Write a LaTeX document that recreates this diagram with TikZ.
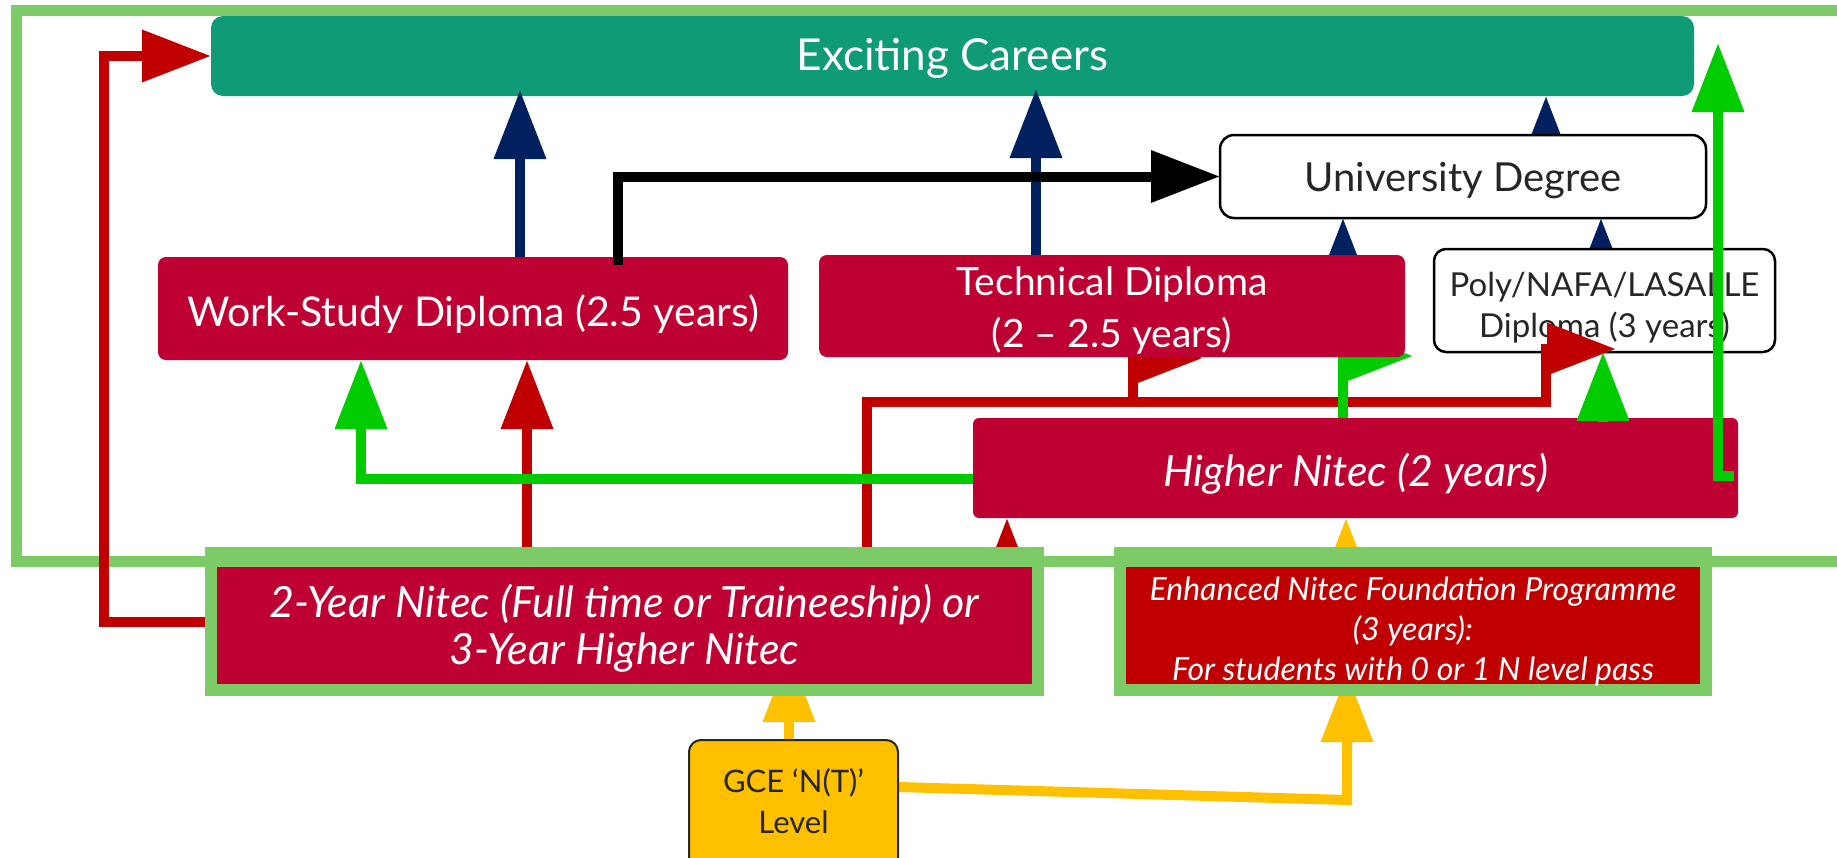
\documentclass[tikz,border=0pt]{standalone}
\usepackage{fontspec}
\setmainfont{Lato}
\usetikzlibrary{arrows.meta,calc}
\definecolor{cTeal}{HTML}{0E9B76}
\definecolor{cCrim}{HTML}{BE0032}
\definecolor{cRed}{HTML}{C00000}
\definecolor{cLGreen}{HTML}{7DCB67}
\definecolor{cGreen}{HTML}{00CC00}
\definecolor{cNavy}{HTML}{002060}
\definecolor{cGold}{HTML}{FFC000}
\definecolor{cDark}{HTML}{262626}
\tikzset{
  box/.style={inner sep=0pt, outer sep=0pt, align=center, text=white},
  lbl/.style={inner sep=0pt, align=center, text=white},
  conn/.style={line width=10pt, -{Triangle[length=69pt,width=50pt]}},
  navyc/.style={conn, draw=cNavy},
  redc/.style={conn, draw=cRed},
  greenc/.style={conn, draw=cGreen},
  goldc/.style={conn, draw=cGold},
  blackc/.style={conn, draw=black},
}
\begin{document}
\begin{tikzpicture}[x=1pt,y=-1pt]
\useasboundingbox (0,0) rectangle (1837,857);
% node frames (positions); shapes are painted in layers below
\path node[box, minimum width=1483pt, minimum height=80pt] (exc) at (952.5,56) {}
      node[box, minimum width=341pt, minimum height=103pt] (poly) at (1604.5,300.5) {}
      node[box, minimum width=486pt, minimum height=83pt] (uni) at (1463,176.5) {}
      node[box, minimum width=630pt, minimum height=103pt] (ws) at (473,308.5) {}
      node[box, minimum width=586pt, minimum height=102pt] (tech) at (1112,306) {}
      node[box, minimum width=765pt, minimum height=100pt] (hn) at (1355.5,468) {}
      node[box, outer sep=6pt, minimum width=827pt, minimum height=137pt] (n2) at (624.5,621.5) {}
      node[box, outer sep=6pt, minimum width=586pt, minimum height=137pt] (enh) at (1413,621.5) {}
      node[box, minimum width=209pt, minimum height=130pt] (gce) at (793.5,805) {};
% coordinates
\coordinate (b0) at ($(ws.north)+(47,0)$);
\coordinate (b1) at (b0 |- exc.south);
\coordinate (c0) at ($(tech.north)+(-76,0)$);
\coordinate (c1) at (c0 |- exc.south);
\coordinate (d0) at ($(uni.center)+(83,0)$);
\coordinate (d1) at (d0 |- exc.south);
\coordinate (e0) at ($(tech.center)+(231,0)$);
\coordinate (e1) at (e0 |- uni.south);
\coordinate (f0) at ($(poly.center)+(-3.5,0)$);
\coordinate (f1) at (f0 |- uni.south);
\coordinate (g0) at ($(ws.north)+(145,8)$);
\coordinate (h0) at ($(n2.north)+(-97.5,0)$);
\coordinate (h1) at (h0 |- ws.south);
\coordinate (i0) at ($(hn.west)+(0,11)$);
\coordinate (i1) at ($(ws.south)+(-112,0)$);
\coordinate (j0) at ($(n2.north)+(242.5,0)$);
\coordinate (j1) at ($(hn.north)+(190.5,-16)$);
\coordinate (j2) at ($(poly.south)+(-58.5,-3)$);
\coordinate (j3) at ($(j2)+(70,0)$);
\coordinate (k0) at ($(tech.south)+(21,45)$);
\coordinate (k1) at ($(tech.south)+(21,1)$);
\coordinate (k2) at ($(k1)+(70,0)$);
\coordinate (l0) at ($(hn.north)+(-12.5,0)$);
\coordinate (l1a) at (l0 |- tech.south);
\coordinate (l1) at ($(l1a)+(0,-1)$);
\coordinate (l2) at ($(l1)+(70,0)$);
\coordinate (m0) at ($(hn.north)+(247.5,4)$);
\coordinate (m1) at (m0 |- poly.south);
\coordinate (n0) at ($(hn.east)+(-4,8)$);
\coordinate (n1) at ($(exc.north east)+(24,27)$);
\coordinate (o0) at ($(gce.north)+(-4.5,0)$);
\coordinate (o1) at (o0 |- n2.south);
\coordinate (p0) at ($(gce.east)+(0,-18)$);
\coordinate (pc) at ($(enh.south)+(-66,104)$);
\coordinate (p1) at ($(enh.south)+(-66,-23)$);
\coordinate (q0) at ($(enh.center)+(-67,0)$);
\coordinate (q1) at (q0 |- hn.south);
\coordinate (r0) at ($(n2.center)+(382.5,0)$);
\coordinate (r1) at (r0 |- hn.south);
% Exciting Careers box
\node[box, fill=cTeal, rounded corners=12pt, minimum width=1483pt, minimum height=80pt] at (exc.center) {};
\node[lbl, font={\fontsize{44}{52}\selectfont}] at ($(exc.center)+(0,2)$) {Exciting Careers};
% arrow hidden behind Poly box
\draw[navyc] (f0) -- (f1);
% Poly box
\node[box, fill=white, draw=black, line width=2.5pt, rounded corners=12pt,
      minimum width=341pt, minimum height=103pt] at (poly.center) {};
\node[lbl, text=cDark, font={\fontsize{33}{41}\selectfont}] at ($(poly.center)+(0,7)$) {Poly/NAFA/LASALLE\\Diploma (3 years)};
% connectors partly hidden by boxes
\draw[navyc] (d0) -- (d1);
\draw[navyc] (e0) -- (e1);
\draw[redc] (j0) |- (j1) -- (j2) -- (j3);
\draw[redc] (k0) -- (k1) -- (k2);
\draw[greenc] (l0) -- (l1) -- (l2);
\draw[goldc] (o0) -- ($(o1)+(0,-43)$);
\draw[goldc] (p0) -- (pc) -- (p1);
\draw[goldc] (q0) -- (q1);
\draw[redc] (r0) -- (r1);
% boxes
\node[box, fill=white, draw=black, line width=2.5pt, rounded corners=14pt,
      minimum width=486pt, minimum height=83pt] at (uni.center) {};
\node[lbl, text=cDark, font={\fontsize{40}{48}\selectfont}] at ($(uni.center)+(0,4.5)$) {University Degree};
\node[box, fill=cCrim, rounded corners=8pt, minimum width=586pt, minimum height=102pt] at (tech.center) {};
\node[lbl, font={\fontsize{39}{52}\selectfont}] at ($(tech.center)+(0,4.5)$) {Technical Diploma\\(2 -- 2.5 years)};
\node[box, fill=cCrim, rounded corners=8pt, minimum width=630pt, minimum height=103pt] at (ws.center) {};
\node[lbl, font={\fontsize{41}{48}\selectfont}] at ($(ws.center)+(0,6)$) {Work-Study Diploma (2.5 years)};
\node[box, fill=cCrim, rounded corners=6pt, minimum width=765pt, minimum height=100pt] at (hn.center) {};
\node[lbl, font={\fontsize{43}{48}\itshape\selectfont}] at ($(hn.center)+(0,6)$) {Higher Nitec (2 years)};
\node[box, fill=cCrim, draw=cLGreen, line width=12pt, minimum width=827pt, minimum height=137pt] at (n2.center) {};
\node[lbl, font={\fontsize{43}{47}\itshape\selectfont}] at ($(n2.center)+(0,7)$) {2-Year Nitec (Full time or Traineeship) or\\3-Year Higher Nitec};
\node[box, fill=cRed, draw=cLGreen, line width=12pt, minimum width=586pt, minimum height=137pt] at (enh.center) {};
\node[lbl, font={\fontsize{32}{40}\itshape\selectfont}] at ($(enh.center)+(0,10)$) {Enhanced Nitec Foundation Programme\\(3 years):\\For students with 0 or 1 N level pass};
\node[box, fill=cGold, draw=cDark, line width=2pt, rounded corners=12pt,
      minimum width=209pt, minimum height=130pt] at (gce.center) {};
\node[lbl, text=cDark, font={\fontsize{31}{41}\selectfont}] at ($(gce.center)+(0,-4)$) {GCE ‘N(T)’\\Level};
% big frame
\draw[cLGreen, line width=11pt] (16,10) rectangle (1900,561);
% connectors on top
\draw[navyc] (b0) -- ($(b1)+(0,-6)$);
\draw[navyc] (c0) -- ($(c1)+(0,-7)$);
\draw[blackc] (g0) |- (uni.west);
\draw[redc] (n2.west) -- ++(-101,0) |- (exc.west);
\draw[redc] (h0) -- (h1);
\draw[greenc] (i0) -| (i1);
\draw[greenc] (m0) -- (m1);
\draw[greenc] (n0) -| (n1);
\end{tikzpicture}
\end{document}
